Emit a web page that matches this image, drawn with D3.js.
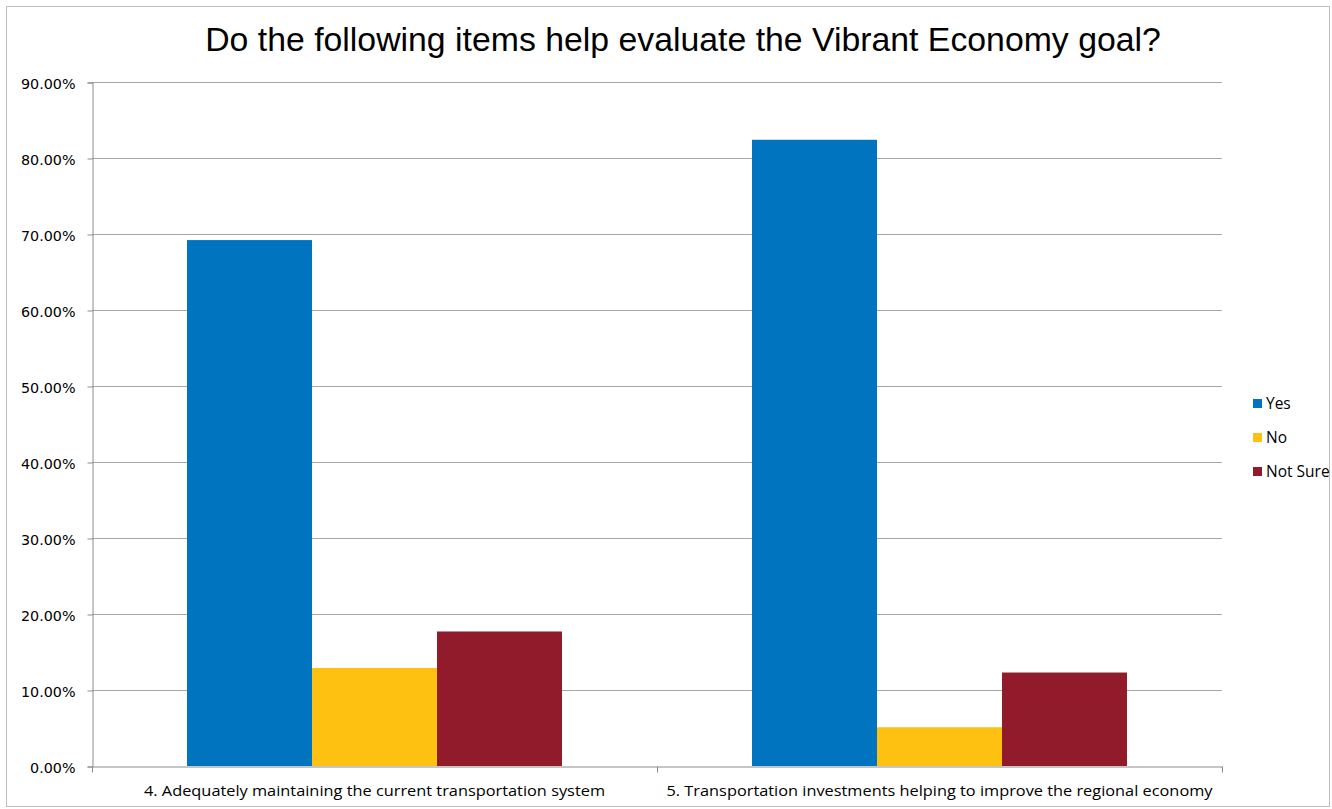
<!DOCTYPE html>
<html><head><meta charset="utf-8">
<script src="https://cdn.jsdelivr.net/npm/d3@7"></script>
<style>body{margin:0;background:#fff}svg{display:block}</style>
</head><body><div id="chart"></div>
<script>
const title = "Do the following items help evaluate the Vibrant Economy goal?";
const categories = ["4. Adequately maintaining the current transportation system", "5. Transportation investments helping to improve the regional economy"];
const seriesNames = ["Yes", "No", "Not Sure"];
const yesValues = [69.2, 82.4];
const noValues = [12.9, 5.1];
const notSureValues = [17.7, 12.3];
const colors = ["#0174BF", "#FEC111", "#921B2B"];
const yTicks = [0, 10, 20, 30, 40, 50, 60, 70, 80, 90];

const W = 1332, H = 809;
const m = {left: 92, right: 1222, top: 82, bottom: 766};
const svg = d3.select("#chart").append("svg").attr("width", W).attr("height", H);
svg.append("rect").attr("x", 6.5).attr("y", 6.5).attr("width", W - 9).attr("height", H - 9)
  .attr("fill", "#fff").attr("stroke", "#BFBFBF").attr("stroke-width", 1);

const series = [yesValues, noValues, notSureValues];
const data = categories.map((c, i) => ({cat: c, vals: series.map((s, j) => ({name: seriesNames[j], v: s[i], j}))}));

const x0 = d3.scaleBand().domain(categories).range([m.left, m.right]).paddingInner(0).paddingOuter(0);
const x1 = d3.scaleBand().domain(seriesNames).range([0, x0.bandwidth()]).paddingInner(0).paddingOuter(0.76);
const y = d3.scaleLinear().domain([0, 90]).range([m.bottom, m.top]);

// gridlines
svg.append("g").selectAll("line").data(yTicks.filter(t => t > 0)).join("line")
  .attr("x1", m.left).attr("x2", m.right)
  .attr("y1", d => Math.round(y(d)) + 0.5).attr("y2", d => Math.round(y(d)) + 0.5)
  .attr("stroke", "#A6A6A6").attr("stroke-width", 1);

// bars
const g = svg.append("g").selectAll("g").data(data).join("g")
  .attr("transform", d => `translate(${x0(d.cat)},0)`);
g.selectAll("rect").data(d => d.vals).join("rect")
  .attr("x", d => x1(d.name)).attr("width", x1.bandwidth())
  .attr("y", d => y(d.v)).attr("height", d => y(0) - y(d.v))
  .attr("fill", d => colors[d.j]);

// y axis
const yAxis = d3.axisLeft(y).tickValues(yTicks).tickSize(5).tickPadding(12)
  .tickFormat(d => d.toFixed(2) + "%");
const ya = svg.append("g").attr("transform", `translate(${m.left + 0.5},0.5)`).call(yAxis);
ya.select(".domain").attr("stroke", "#8C8C8C");
ya.selectAll(".tick line").attr("stroke", "#8C8C8C");
ya.selectAll("text").attr("font-family", "DejaVu Sans, sans-serif").attr("font-size", 14.3).attr("fill", "#000")
  .attr("dy", null).attr("y", 5.5);

// x axis
const xAxis = d3.axisBottom(x0).tickSize(0).tickPadding(17);
const xa = svg.append("g").attr("transform", `translate(0,${m.bottom + 0.5})`).call(xAxis);
xa.select(".domain").attr("stroke", "#8C8C8C");
xa.selectAll("text").attr("font-family", "Open Sans, sans-serif").attr("font-size", 14).attr("fill", "#000")
  .attr("dy", null).attr("y", 29)
  .attr("textLength", (d, i) => i === 0 ? 461 : 546).attr("lengthAdjust", "spacingAndGlyphs");
const bounds = [m.left, ...categories.map(c => x0(c) + x0.bandwidth())];
xa.selectAll(".cattick").data(bounds).join("line").attr("class", "cattick")
  .attr("x1", d => Math.round(d) + 0.5).attr("x2", d => Math.round(d) + 0.5).attr("y1", 0).attr("y2", 6)
  .attr("stroke", "#8C8C8C");

// title
svg.append("text").attr("x", 683).attr("y", 51).attr("text-anchor", "middle")
  .attr("font-family", "Liberation Sans, Arial, sans-serif").attr("font-size", 33.8).attr("fill", "#000").text(title);

// legend
const lg = svg.append("g").selectAll("g").data(seriesNames).join("g")
  .attr("transform", (d, i) => `translate(1253,${399 + i * 34})`);
lg.append("rect").attr("width", 9).attr("height", 9).attr("fill", (d, i) => colors[i]);
lg.append("text").attr("x", 13).attr("y", 10).attr("font-family", "Open Sans, sans-serif").attr("font-size", 15.5).attr("fill", "#000").text(d => d);
</script></body></html>
